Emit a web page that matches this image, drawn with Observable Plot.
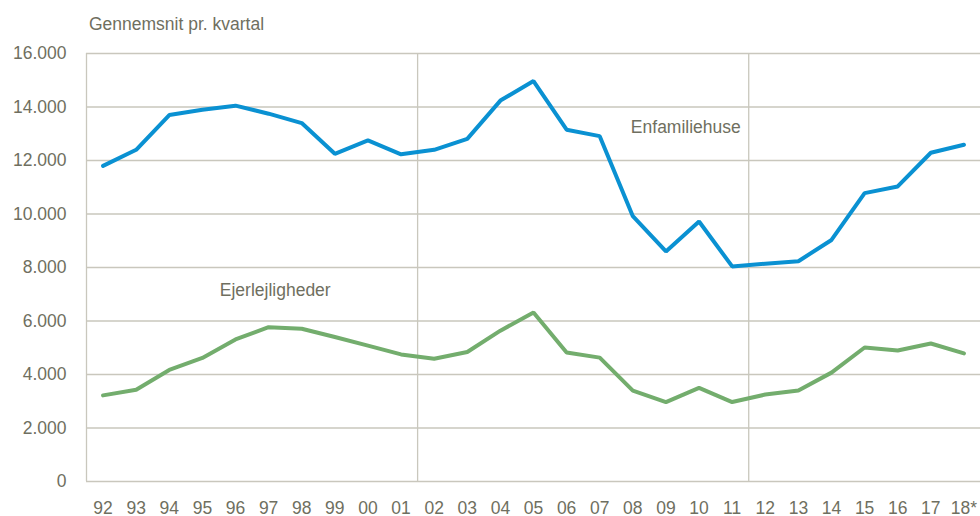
<!DOCTYPE html>
<html><head><meta charset="utf-8">
<script src="https://cdn.jsdelivr.net/npm/d3@7"></script>
<script src="https://cdn.jsdelivr.net/npm/@observablehq/plot@0.6"></script>
<style>
body{margin:0;background:#fff;}
#title{height:27px;padding:13px 0 0 89px;font-family:"Liberation Sans",Arial,sans-serif;font-size:17.5px;line-height:22px;color:#6f6f60;}
#chart svg{display:block;}
</style></head><body>
<div id="title">Gennemsnit pr. kvartal</div>
<div id="chart"></div>
<script>
const years = ["92","93","94","95","96","97","98","99","00","01","02","03","04","05","06","07","08","09","10","11","12","13","14","15","16","17","18*"];
const enfamiliehuse = [11800,12400,13700,13900,14050,13750,13400,12250,12750,12230,12400,12810,14240,14970,13150,12910,9920,8600,9720,8040,8140,8235,9030,10780,11030,12290,12590];
const ejerlejligheder = [3220,3430,4170,4620,5310,5770,5710,5400,5080,4750,4590,4840,5640,6320,4820,4630,3400,2970,3500,2970,3250,3400,4070,5010,4900,5160,4790];
const yTicks = [0,2000,4000,6000,8000,10000,12000,14000,16000];
const dividers = [9.5, 19.5];
const labels = [
  {text:"Enfamiliehuse", i:17.6, v:13230},
  {text:"Ejerlejligheder", i:5.2, v:7140}
];

const seriesRows = (name, arr) => arr.map((v, i) => ({i, v, name}));
const rows = [...seriesRows("Enfamiliehuse", enfamiliehuse), ...seriesRows("Ejerlejligheder", ejerlejligheder)];

const fontFamily = '"Liberation Sans",Arial,sans-serif';
const grid = "#c9c7bd";
const textColor = "#6f6f60";
const fmt = d3.formatLocale({decimal:",", thousands:".", grouping:[3]}).format(",");

const chart = Plot.plot({
  width: 980,
  height: 476,
  marginTop: 13,
  marginBottom: 35,
  marginLeft: 86,
  marginRight: 0,
  style: {fontFamily, fontSize: "17.5px", color: textColor, background: "#fff", overflow: "visible"},
  x: {domain: [-0.5, years.length - 0.5], axis: null, label: null},
  y: {domain: [0, 16000], axis: null, label: null},
  color: {domain: ["Enfamiliehuse","Ejerlejligheder"], range: ["#0a91d2","#73ad6d"]},
  marks: [
    Plot.ruleY(yTicks, {stroke: grid, strokeWidth: 1.3}),
    Plot.ruleX([-0.5, ...dividers], {stroke: grid, strokeWidth: 1.3}),
    Plot.axisY({ticks: yTicks, tickSize: 0, tickPadding: 20, tickFormat: fmt, fontSize: 17.5, fill: textColor, label: null}),
    Plot.axisX({ticks: d3.range(years.length), tickSize: 0, tickPadding: 20, tickFormat: i => years[i], fontSize: 17.5, fill: textColor, label: null}),
    Plot.line(rows, {x: "i", y: "v", z: "name", stroke: "name", strokeWidth: 4, strokeLinejoin: "miter", strokeLinecap: "round"}),
    Plot.text(labels, {x: "i", y: "v", text: "text", fontSize: 17.5, fill: textColor})
  ]
});
document.getElementById("chart").appendChild(chart);
</script>
</body></html>
